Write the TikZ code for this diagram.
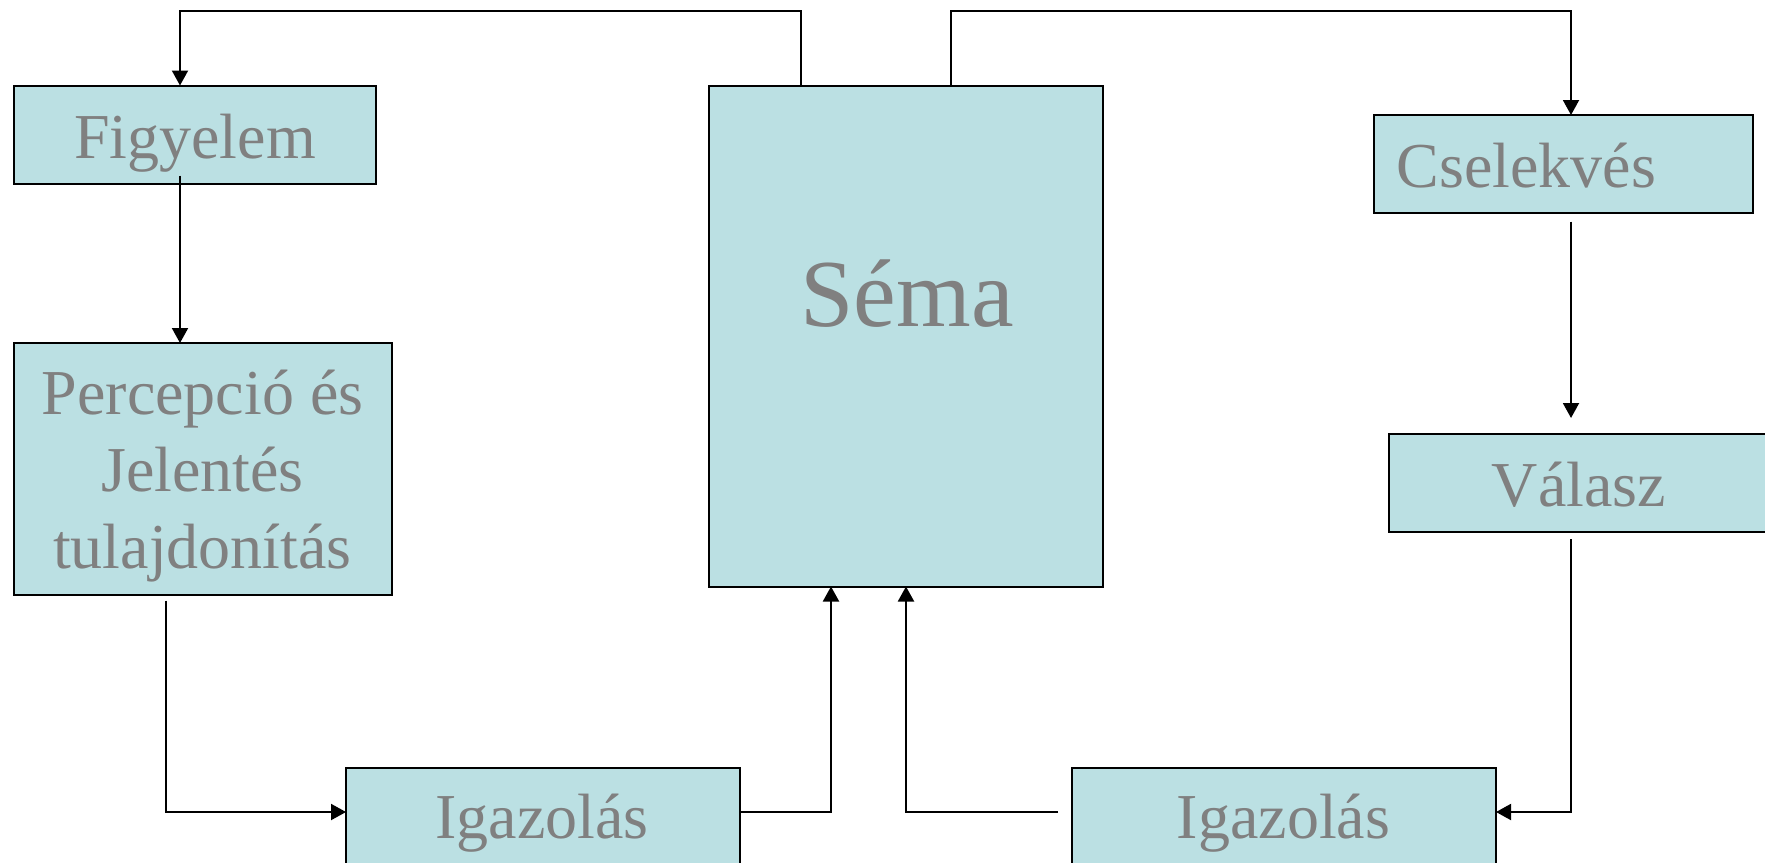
\documentclass[tikz,border=0pt]{standalone}
\usepackage{fontspec}
\setmainfont{Liberation Serif}
\usetikzlibrary{arrows.meta,calc}
\definecolor{boxfill}{HTML}{BBE0E3}
\definecolor{txtgray}{HTML}{808080}
\tikzset{
  boxnode/.style={draw=black, line width=1pt, fill=boxfill, rectangle, inner sep=0pt, outer sep=0pt},
  lbl/.style={text=txtgray, inner sep=0pt, outer sep=0pt, font=\fontsize{32}{38.3}\selectfont},
  arr/.style={draw=black, line width=1pt, -{Triangle[length=7.5pt,width=8pt]}},
  plain/.style={draw=black, line width=1pt}
}
\begin{document}
\begin{tikzpicture}[x=0.5pt,y=-0.5pt]
\useasboundingbox (0,0) rectangle (1765,862);
\clip (0,0) rectangle (1765,862);
% boxes
\node[boxnode, minimum width=181.25pt, minimum height=49pt] (fig) at (194.75,134.5) {};
\node[boxnode, minimum width=196.75pt, minimum height=250.5pt] (sema) at (905.75,336) {};
\node[boxnode, minimum width=189.5pt, minimum height=49pt] (csel) at (1563.5,164) {};
\node[boxnode, minimum width=193pt, minimum height=49pt] (val) at (1582,483) {};
\node[boxnode, minimum width=189.25pt, minimum height=125.75pt] (perc) at (202.75,468.75) {};
\node[boxnode, minimum width=196.75pt, minimum height=55pt] (igL) at (542.75,822.7) {};
\node[boxnode, minimum width=212.25pt, minimum height=55pt] (igR) at (1283.75,822.7) {};
% texts
\node[lbl, anchor=base] (figT) at (195,158.3) {Figyelem};
\node[lbl, anchor=base, font=\fontsize{48}{56}\selectfont] (semaT) at (907,326) {Séma};
\node[lbl, anchor=base west] (cselT) at (1396.7,187.3) {Cselekvés};
\node[lbl, anchor=base] (valT) at (1579,506.7) {Válasz};
\node[lbl, anchor=base, align=center] (percT) at (202.5,568) {Percepció és\\Jelentés\\tulajdonítás};
\node[lbl, anchor=base] (igLT) at (542,838.3) {Igazolás};
\node[lbl, anchor=base] (igRT) at (1283.5,838.3) {Igazolás};
% helper coordinates
\coordinate (tL) at (180,11);
\coordinate (tS1) at (800.5,11);
\coordinate (tS2) at (951,11);
\coordinate (tR) at (1571,11);
\coordinate (yb) at (0,812);
\coordinate (xA) at (831,0);
\coordinate (xB) at (906,0);
\coordinate (xP) at (165.5,0);
% connectors
\draw[arr] (sema.north -| tS1) -- (tS1) -- (tL) -- (fig.north -| tL);
\draw[arr] (sema.north -| tS2) -- (tS2) -- (tR) -- (csel.north -| tR);
\draw[arr] ($(fig.south -| tL)+(0,-8)$) -- (perc.north -| tL);
\draw[arr] ($(perc.south -| xP)+(0,6)$) |- (igL.west |- yb);
\draw[arr] (igL.east |- yb) -| (sema.south -| xA);
\draw[arr] ($(igR.west |- yb)+(-13.5,0)$) -| (sema.south -| xB);
\draw[arr] ($(csel.south -| tR)+(0,8.7)$) -- ($(val.north -| tR)+(0,-16)$);
\draw[arr] ($(val.south -| tR)+(0,7)$) |- (igR.east |- yb);
\end{tikzpicture}
\end{document}
